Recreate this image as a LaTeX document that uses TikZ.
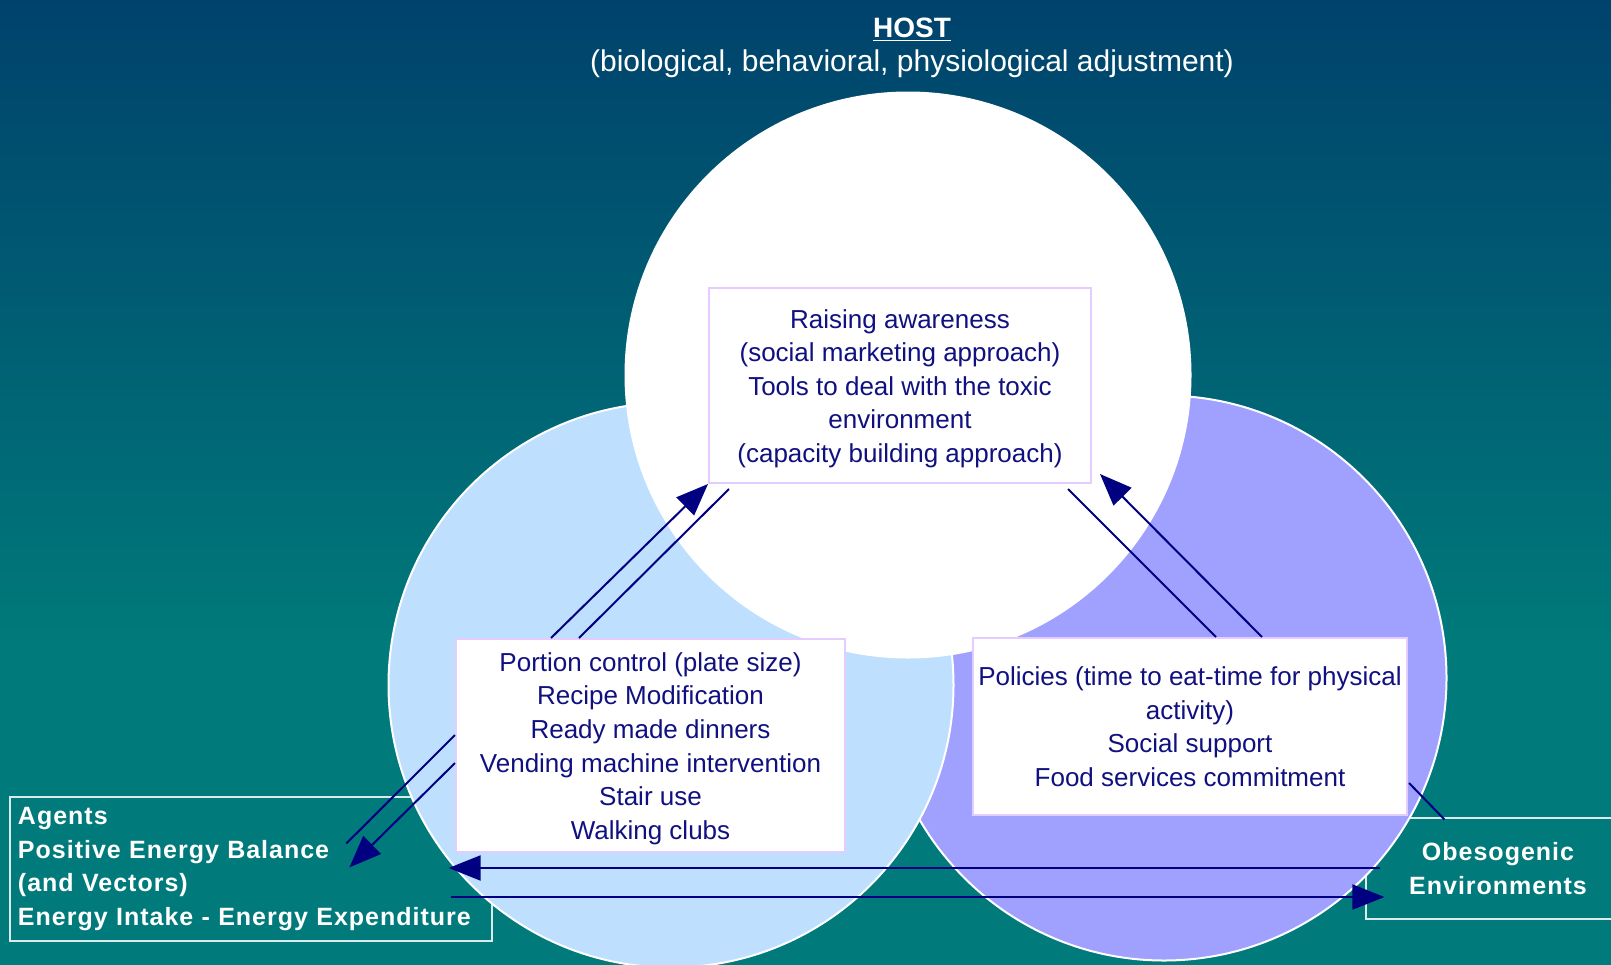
\documentclass[tikz,border=0pt]{standalone}
\usepackage{fontspec}
\setmainfont{Liberation Sans}
\usetikzlibrary{arrows.meta,calc}

\definecolor{bgtop}{RGB}{0,66,108}
\definecolor{bgteal}{RGB}{0,122,122}
\definecolor{agentfill}{RGB}{191,223,255}
\definecolor{envfill}{RGB}{160,160,255}
\definecolor{inktext}{RGB}{16,16,128}
\definecolor{inkline}{RGB}{0,0,128}
\definecolor{boxedge}{RGB}{228,204,255}

% TikZ fits the band 25bp--75bp of a declared shading to the path
\pgfdeclareverticalshading{backdrop}{100bp}{color(0bp)=(bgteal); color(41.5bp)=(bgteal); color(75bp)=(bgtop); color(100bp)=(bgtop)}

% pushes the first line of a box down a little
\newcommand\toppad{\rule{0pt}{12.4pt}}

\begin{document}
\begin{tikzpicture}[x=0.5pt,y=-0.5pt,
  zone/.style={circle,draw=white,line width=1pt,inner sep=0pt,minimum size=282.5pt},
  measure/.style={draw=boxedge,line width=1pt,fill=white,text=inktext,align=center,
    inner sep=0pt,font=\fontsize{13}{16.8}\selectfont},
  labelbox/.style={draw=white!85!bgteal,line width=0.6pt,text=white,inner sep=0pt,
    font=\fontsize{12.5}{16.8}\selectfont\bfseries\addfontfeatures{LetterSpace=4}},
  link/.style={draw=inkline,line width=1pt},
  flow/.style={link,-{Triangle[length=16pt,width=12.5pt]}}
]
% page frame and backdrop
\path[use as bounding box] (0,0) rectangle (1611,964);
\shade[shading=backdrop] (0,0) rectangle (1611,964);
\clip (0,0) rectangle (1611,964);

% outer labels, partly covered by the circles
\node[labelbox,minimum width=241pt,minimum height=72pt,align=left,text width=233pt] (agents) at (251,869)
  {Agents\\Positive Energy Balance\\(and Vectors)\\Energy Intake - Energy Expenditure};
\node[labelbox,minimum width=132pt,minimum height=50.5pt,align=center] (obeso) at (1498,868.5)
  {Obesogenic\\Environments};

% the three overlapping circles
\node[zone,fill=envfill] (env) at (1164,678) {};
\node[zone,fill=agentfill] (agent) at (671,685) {};
\node[zone,fill=white] (host) at (908,375) {};

% heading
\node[anchor=base,text=white,font=\fontsize{14}{16}\selectfont\bfseries] (title) at (912,37) {\underline{HOST}};
\node[anchor=base,text=white,font=\fontsize{15}{18}\selectfont] (subtitle) at (912,71) {(biological, behavioral, physiological adjustment)};

% intervention boxes
\node[measure,minimum width=191pt,minimum height=97.5pt] (awareness) at (900,385.5)
  {\toppad Raising awareness\\(social marketing approach)\\Tools to deal with the toxic\\environment\\(capacity building approach)};
\node[measure,minimum width=194.5pt,minimum height=106.5pt] (measures) at (650.5,745.5)
  {\toppad Portion control (plate size)\\Recipe Modification\\Ready made dinners\\Vending machine intervention\\Stair use\\Walking clubs};
\node[measure,minimum width=217pt,minimum height=88.5pt] (policies) at (1190,726.5)
  {Policies (time to eat-time for physical\\activity)\\Social support\\Food services commitment};

% connectors between host and agent measures
\draw[flow] ($(measures.north west)+(96,0)$) -- (awareness.south west);
\draw[link] ($(awareness.south west)+(21,5)$) -- ($(measures.north west)+(124,0)$);

% connectors between agent measures and agents
\draw[link] ($(measures.west)+(0,-10.5)$) -- ($(agents.north west)+(337,47)$);
\draw[flow] ($(measures.west)+(0,17.5)$) -- ($(agents.north west)+(340,71)$);

% connectors between agents and environments
\draw[flow] ($(obeso.west)+(15,-0.5)$) -- ($(agents.east)+(-44,-1)$);
\draw[flow] ($(agents.east)+(-42,28)$) -- ($(obeso.west)+(19,28.5)$);

% connectors between host and environment policies
\draw[link] ($(awareness.south east)+(-24,5)$) -- ($(policies.north west)+(244,0)$);
\draw[flow] ($(policies.north west)+(290,0)$) -- ($(awareness.south east)+(8,-10)$);
\draw[link] ($(policies.south east)+(1,-33)$) -- ($(obeso.north west)+(79,2)$);
\end{tikzpicture}
\end{document}
